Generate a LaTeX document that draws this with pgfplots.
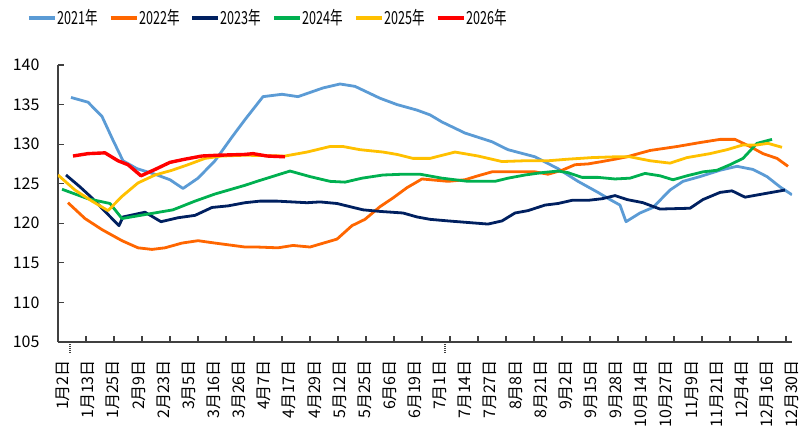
\documentclass[border=0pt]{standalone}
\usepackage{fontspec}
\setmainfont{Noto Sans CJK SC}
\newfontfamily\legfont[FakeStretch=0.7]{Noto Sans CJK SC}
\usepackage{pgfplots}
\pgfplotsset{compat=1.18}
\definecolor{c21}{RGB}{91,155,213}
\definecolor{c22}{RGB}{255,102,0}
\definecolor{c23}{RGB}{0,32,96}
\definecolor{c24}{RGB}{0,176,80}
\definecolor{c25}{RGB}{255,192,0}
\definecolor{c26}{RGB}{255,0,0}
\definecolor{axgray}{RGB}{64,64,64}
\begin{document}
\begin{tikzpicture}
\useasboundingbox (-58pt,-89pt) rectangle (746pt,342pt);
\begin{axis}[
  scale only axis,
  width=734pt, height=277pt,
  xmin=58, xmax=792,
  ymin=105, ymax=140,
  ytick={105,110,...,140},
  minor ytick={105,110,...,140},
  axis lines*=left,
  axis line style={axgray, line width=1.3pt},
  tick align=inside,
  xtick pos=bottom, ytick pos=left,
  every tick/.style={axgray, line width=1.1pt},
  major tick length=0pt,
  minor tick length=6pt,
  xtick={63,88.14,113.28,138.41,163.55,188.69,213.83,238.97,264.1,289.24,314.38,339.52,364.66,389.79,414.93,440.07,465.21,490.34,515.48,540.62,565.76,590.9,616.03,641.17,666.31,691.45,716.59,741.72,766.86,792},
  xticklabels={1月2日,1月13日,1月25日,2月9日,2月23日,3月5日,3月16日,3月26日,4月7日,4月17日,4月29日,5月12日,5月25日,6月6日,6月19日,7月1日,7月14日,7月27日,8月8日,8月21日,9月2日,9月15日,9月28日,10月14日,10月27日,11月9日,11月21日,12月4日,12月16日,12月30日},
  minor xtick={86,114,...,786},
  extra x ticks={70,445},
  extra x tick labels={},
  extra x tick style={major tick length=11pt, tick align=outside, tick style={densely dotted, line width=1.2pt, axgray}},
  x tick label style={rotate=90, anchor=east, font=\fontsize{16}{16}\selectfont, xshift=-18pt, inner sep=0pt},
  y tick label style={font=\fontsize{16}{16}\selectfont, xshift=-15pt},
  /pgf/number format/assume math mode=true,
  legend columns=6,
  legend style={at={(-0.0422,1.1697)}, anchor=west, draw=none, fill=none,
    font=\legfont\fontsize{18}{18}\selectfont, inner xsep=0pt, inner ysep=0pt,
    /tikz/every even column/.append style={column sep=10pt},
    nodes={inner xsep=1pt}},
  legend image code/.code={\draw[#1, line width=3.2pt] (0pt,0pt) -- (26pt,0pt);},
  every axis plot/.append style={line width=2.8pt, line join=round, no markers},
]
\addplot[c21] coordinates {(71,135.9) (88,135.3) (102,133.5) (113,130.5) (123,127.9) (137,126.9) (155,126.2) (170,125.5) (183,124.4) (198,125.7) (215,127.9) (232,130.9) (245,133.1) (263,136.0) (282,136.3) (298,136.0) (323,137.1) (340,137.6) (355,137.3) (380,135.8) (397,135.0) (417,134.3) (430,133.7) (442,132.8) (465,131.4) (492,130.3) (508,129.3) (535,128.4) (558,126.9) (578,125.3) (598,123.9) (610,123.0) (620,122.3) (626,120.2) (640,121.3) (653,122.0) (670,124.2) (683,125.3) (700,125.9) (720,126.7) (737,127.2) (753,126.8) (767,125.9) (780,124.6) (792,123.6)};
\addlegendentry{2021年}
\addplot[c22] coordinates {(68,122.6) (85,120.6) (102,119.2) (122,117.8) (138,116.9) (152,116.7) (165,116.9) (182,117.5) (198,117.8) (215,117.5) (245,117.0) (257,117.0) (278,116.9) (293,117.2) (310,117.0) (337,118.0) (352,119.7) (365,120.5) (380,122.1) (393,123.2) (407,124.5) (422,125.6) (448,125.3) (465,125.5) (478,126.0) (492,126.5) (518,126.5) (535,126.5) (548,126.2) (562,126.7) (575,127.4) (588,127.5) (602,127.8) (615,128.1) (627,128.4) (650,129.2) (677,129.7) (700,130.2) (720,130.6) (735,130.6) (750,129.7) (763,128.8) (777,128.2) (788,127.2)};
\addlegendentry{2022年}
\addplot[c23] coordinates {(66,126.1) (80,124.6) (92,123.2) (105,121.5) (119,119.7) (123,120.8) (145,121.4) (161,120.2) (178,120.7) (195,121.0) (212,122.0) (228,122.2) (245,122.6) (260,122.8) (277,122.8) (307,122.6) (320,122.7) (337,122.5) (350,122.1) (363,121.7) (380,121.5) (403,121.3) (417,120.8) (430,120.5) (448,120.3) (468,120.1) (488,119.9) (502,120.3) (515,121.3) (528,121.6) (545,122.3) (558,122.5) (572,122.9) (588,122.9) (602,123.1) (615,123.5) (627,123.0) (643,122.6) (660,121.8) (690,121.9) (703,123.0) (720,123.9) (732,124.1) (745,123.3) (767,123.8) (785,124.2)};
\addlegendentry{2023年}
\addplot[c24] coordinates {(62,124.3) (88,123.1) (110,122.5) (122,120.6) (145,121.1) (173,121.7) (195,122.8) (215,123.7) (245,124.8) (257,125.3) (290,126.6) (310,125.9) (330,125.3) (345,125.2) (362,125.7) (383,126.1) (403,126.2) (420,126.2) (442,125.7) (468,125.3) (495,125.3) (508,125.7) (525,126.1) (542,126.4) (558,126.6) (568,126.4) (582,125.8) (598,125.8) (615,125.6) (630,125.7) (645,126.3) (660,126.0) (673,125.5) (687,126.0) (703,126.5) (717,126.7) (730,127.4) (743,128.2) (757,130.1) (772,130.6)};
\addlegendentry{2024年}
\addplot[c25] coordinates {(58,126.1) (75,124.2) (92,122.8) (108,121.6) (122,123.4) (138,125.1) (155,126.1) (172,126.7) (188,127.4) (205,128.2) (222,128.5) (245,128.6) (285,128.5) (307,129.0) (330,129.7) (343,129.7) (360,129.3) (383,129.0) (397,128.7) (413,128.2) (430,128.2) (455,129.0) (478,128.5) (502,127.8) (525,127.9) (548,127.9) (568,128.1) (592,128.3) (615,128.4) (630,128.4) (650,127.9) (670,127.6) (687,128.3) (710,128.8) (727,129.3) (743,129.9) (757,129.9) (768,130.1) (782,129.6)};
\addlegendentry{2025年}
\addplot[c26, line width=3.4pt] coordinates {(73,128.5) (88,128.8) (105,128.9) (118,127.9) (128,127.4) (141,126.0) (155,126.8) (170,127.7) (185,128.1) (202,128.5) (218,128.6) (245,128.7) (253,128.8) (267,128.5) (285,128.4)};
\addlegendentry{2026年}
\end{axis}
\end{tikzpicture}
\end{document}
